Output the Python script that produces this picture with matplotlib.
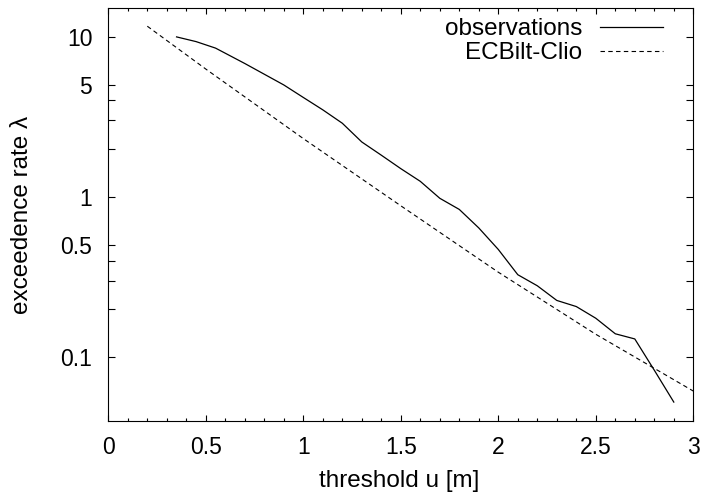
import matplotlib
matplotlib.use("Agg")
import matplotlib.pyplot as plt
from matplotlib.ticker import FixedLocator, NullFormatter, MultipleLocator

plt.rcParams['font.family'] = ['Liberation Sans', 'DejaVu Sans']

obs_u = [0.35, 0.45, 0.55, 0.7, 0.9, 1.0, 1.1, 1.2, 1.3, 1.4, 1.5, 1.6, 1.7,
         1.8, 1.9, 2.0, 2.1, 2.2, 2.3, 2.4, 2.5, 2.6, 2.7, 2.8, 2.9]
obs_rate = [9.95, 9.3, 8.47, 6.79, 4.99, 4.17, 3.49, 2.88, 2.2, 1.82, 1.5, 1.25, 0.98,
            0.835, 0.64, 0.47, 0.327, 0.279, 0.226, 0.207, 0.175, 0.14, 0.13, 0.083, 0.0525]

mod_u = [0.2, 0.5, 1.0, 1.5, 2.0, 2.5, 3.0]
mod_rate = [11.6, 6.27, 2.31, 0.88, 0.339, 0.139, 0.0615]

ytick_vals = [0.1, 0.5, 1, 5, 10]
ytick_labels = ['0.1', '0.5', '1', '5', '10']
yminor_vals = [0.2, 0.3, 0.4, 2, 3, 4]
xtick_vals = [0, 0.5, 1, 1.5, 2, 2.5, 3]
xtick_labels = ['0', '0.5', '1', '1.5', '2', '2.5', '3']

TICK_FS = 16.5
LABEL_FS = 17.5

fig = plt.figure(figsize=(7.01, 4.98), dpi=100)
ax = fig.add_axes([0.1545, 0.1546, 0.989 - 0.1545, 0.9833 - 0.1546])

ax.plot(obs_u, obs_rate, color='black', lw=0.9, label='observations')
ax.plot(mod_u, mod_rate, color='black', lw=0.8, dashes=(4, 3), label='ECBilt-Clio')

ax.set_yscale('log')
ax.set_xlim(0, 3)
ax.set_ylim(0.04, 15)

ax.yaxis.set_major_locator(FixedLocator(ytick_vals))
ax.set_yticklabels(ytick_labels)
ax.yaxis.set_minor_locator(FixedLocator(yminor_vals))
ax.yaxis.set_minor_formatter(NullFormatter())
ax.set_xticks(xtick_vals)
ax.set_xticklabels(xtick_labels)
ax.xaxis.set_minor_locator(MultipleLocator(0.1))

ax.tick_params(which='both', direction='in', top=True, right=True, width=0.8, labelsize=TICK_FS)
ax.tick_params(axis='x', which='major', length=4.5, pad=10.5)
ax.tick_params(axis='x', which='minor', length=2.3)
ax.tick_params(axis='y', which='major', length=4.8, pad=11.5)
ax.tick_params(axis='y', which='minor', length=4.8)
for s in ax.spines.values():
    s.set_linewidth(0.8)

ax.set_xlabel('threshold u [m]', fontsize=LABEL_FS)
ax.set_ylabel('exceedence rate λ', fontsize=LABEL_FS)
ax.xaxis.set_label_coords(0.497, -0.118)
ax.yaxis.set_label_coords(-0.129, 0.5)

ax.legend(loc='upper right', bbox_to_anchor=(0.9487, 0.9765), frameon=False,
          markerfirst=False, handlelength=2.6, handletextpad=0.74,
          labelspacing=0.1, borderpad=0, borderaxespad=0, fontsize=LABEL_FS)

fig.savefig('out.png', dpi=100)
